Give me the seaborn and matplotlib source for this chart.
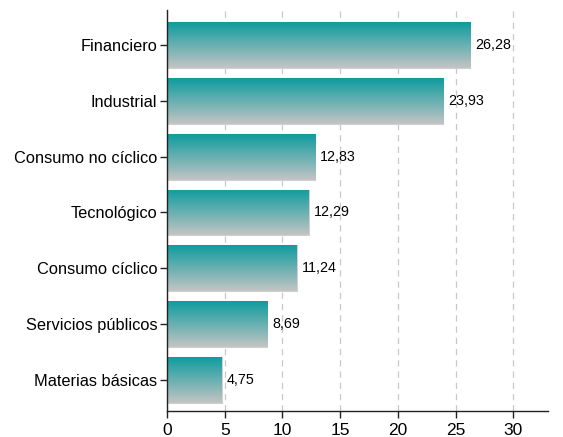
import numpy as np
import pandas as pd
import seaborn as sns
import matplotlib.pyplot as plt
from matplotlib.colors import LinearSegmentedColormap

sectores = ['Financiero', 'Industrial', 'Consumo no cíclico', 'Tecnológico',
            'Consumo cíclico', 'Servicios públicos', 'Materias básicas']
pesos = [26.28, 23.93, 12.83, 12.29, 11.24, 8.69, 4.75]

df = pd.DataFrame({'Sector': sectores, 'Peso': pesos})

sns.set_style('white')
plt.rcParams['font.family'] = ['Liberation Sans', 'DejaVu Sans']

fig = plt.figure(figsize=(5.63, 4.37), dpi=100)
ax = fig.add_axes([0.2966, 0.0595, 0.6768, 0.9175])

ax = sns.barplot(data=df, x='Peso', y='Sector', color='#5fb0b0', width=0.82,
                 edgecolor='#d0d0d0', linewidth=0.8, ax=ax, zorder=2)

# degradado vertical dentro de cada barra
cmap = LinearSegmentedColormap.from_list('teal_gris', ['#0e9c9e', '#c4c4c4'])
grad = np.linspace(0, 1, 256).reshape(-1, 1)
for p in ax.patches:
    x0, y0 = p.get_x(), p.get_y()
    w, h = p.get_width(), p.get_height()
    im = ax.imshow(grad, cmap=cmap, aspect='auto', zorder=2.5,
                   extent=[x0, x0 + w, y0 + h, y0], origin='upper')
    im.set_clip_path(p)

for i, v in enumerate(pesos):
    ax.text(v + 0.4, i, f'{v:.2f}'.replace('.', ','), va='center', ha='left',
            fontsize=10.3, color='black', zorder=4)

ax.set_xlim(0, 33)
ax.set_ylim(6.56, -0.63)
ax.set_xticks([0, 5, 10, 15, 20, 25, 30])
ax.xaxis.grid(True, linestyle=(0, (5, 4)), color='#c8c8c8', linewidth=0.9, zorder=0)
ax.set_axisbelow(True)
ax.set_xlabel('')
ax.set_ylabel('')

sns.despine(ax=ax, top=True, right=True)
for s in ['left', 'bottom']:
    ax.spines[s].set_color('#222222')
    ax.spines[s].set_linewidth(1.0)
ax.tick_params(axis='both', which='major', length=5, width=1, color='#222222',
               direction='out', left=True, bottom=True, labelcolor='black')
ax.tick_params(axis='x', labelsize=12.5, pad=3.5)
ax.tick_params(axis='y', labelsize=11.8, pad=2)

fig.savefig('out.png', dpi=100)
